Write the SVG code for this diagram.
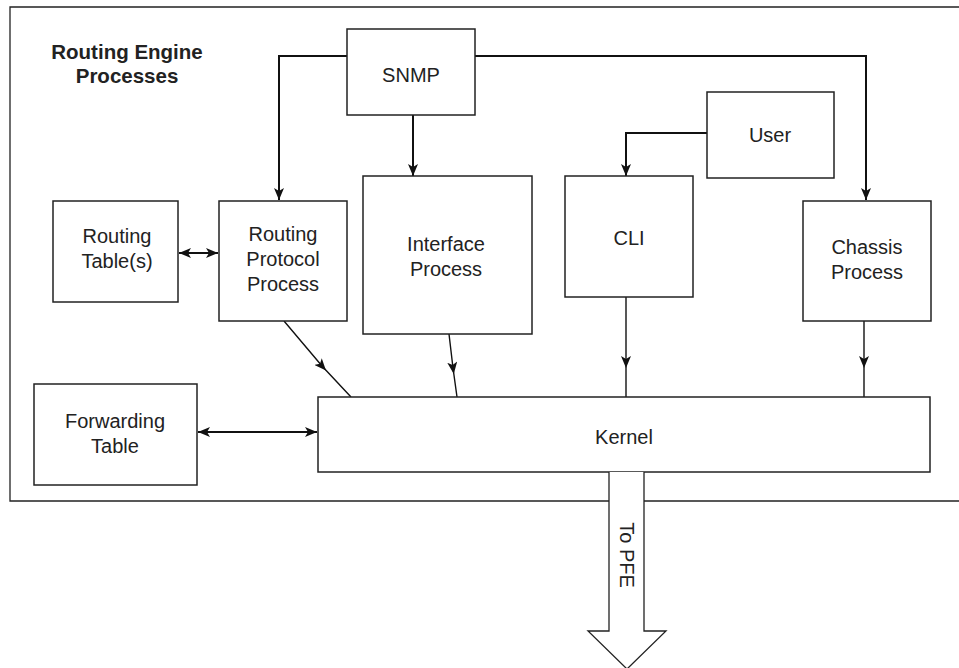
<svg xmlns="http://www.w3.org/2000/svg" width="959" height="668" viewBox="0 0 959 668">
<style>
.box{fill:#fff;stroke:#222;stroke-width:1.5}
.lbl{font-family:"Liberation Sans",Arial,sans-serif;font-size:20px;fill:#222;text-anchor:middle}
.title{font-family:"Liberation Sans",Arial,sans-serif;font-size:20.5px;font-weight:bold;fill:#222;text-anchor:middle}
.thick{fill:none;stroke:#111;stroke-width:2}
.thin{fill:none;stroke:#111;stroke-width:1.4}
</style>
<defs>
<marker id="ah" viewBox="0 0 12 10" refX="12" refY="5" markerWidth="12" markerHeight="10" markerUnits="userSpaceOnUse" orient="auto">
<path d="M0,0 L12,5 L0,10 L3,5 Z" fill="#111"/>
</marker>
<marker id="ahs" viewBox="0 0 12 10" refX="12" refY="5" markerWidth="12" markerHeight="10" markerUnits="userSpaceOnUse" orient="auto-start-reverse">
<path d="M0,0 L12,5 L0,10 L3,5 Z" fill="#111"/>
</marker>
<marker id="am" viewBox="0 0 12 10" refX="6" refY="5" markerWidth="12" markerHeight="10" markerUnits="userSpaceOnUse" orient="auto">
<path d="M0,0 L12,5 L0,10 L3,5 Z" fill="#111"/>
</marker>
</defs>
<g id="frame">
<path d="M609,501 L10,501 L10,7 L965,7 M644,501 L965,501" fill="none" stroke="#222" stroke-width="1.3"/>
<text class="title" x="127" y="59">Routing Engine</text>
<text class="title" x="127" y="83">Processes</text>
</g>
<g id="connectors">
<path class="thick" d="M347,56 L279,56 L279,200" marker-end="url(#ah)"/>
<path class="thick" d="M475,56 L866,56 L866,200" marker-end="url(#ah)"/>
<path class="thick" d="M413,115 L413,176" marker-end="url(#ah)"/>
<path class="thick" d="M707,133 L626,133 L626,176" marker-end="url(#ah)"/>
<path class="thick" d="M179,253 L218,253" marker-start="url(#ahs)" marker-end="url(#ah)"/>
<path class="thick" d="M198,432 L317,432" marker-start="url(#ahs)" marker-end="url(#ah)"/>
<path class="thin" d="M284,321 L322,366 L351,397" marker-mid="url(#am)"/>
<path class="thin" d="M449,334 L453,368 L457,397" marker-mid="url(#am)"/>
<path class="thin" d="M626,297 L626,362 L626,397" marker-mid="url(#am)"/>
<path class="thin" d="M864,321 L864,362 L864,397" marker-mid="url(#am)"/>
</g>
<g id="snmp"><rect class="box" x="347" y="29" width="128" height="86"/><text class="lbl" x="411" y="82">SNMP</text></g>
<g id="user"><rect class="box" x="707" y="92" width="127" height="86"/><text class="lbl" x="770" y="142">User</text></g>
<g id="routing-tables"><rect class="box" x="53" y="201" width="125" height="101"/><text class="lbl" x="117" y="243">Routing</text><text class="lbl" x="117" y="268">Table(s)</text></g>
<g id="rpp"><rect class="box" x="219" y="201" width="128" height="120"/><text class="lbl" x="283" y="241">Routing</text><text class="lbl" x="283" y="266">Protocol</text><text class="lbl" x="283" y="291">Process</text></g>
<g id="interface"><rect class="box" x="363" y="176" width="169" height="158"/><text class="lbl" x="446" y="251">Interface</text><text class="lbl" x="446" y="276">Process</text></g>
<g id="cli"><rect class="box" x="565" y="176" width="128" height="121"/><text class="lbl" x="629" y="245">CLI</text></g>
<g id="chassis"><rect class="box" x="803" y="201" width="128" height="120"/><text class="lbl" x="867" y="254">Chassis</text><text class="lbl" x="867" y="279">Process</text></g>
<g id="forwarding"><rect class="box" x="34" y="384" width="163" height="101"/><text class="lbl" x="115" y="428">Forwarding</text><text class="lbl" x="115" y="453">Table</text></g>
<g id="kernel"><rect class="box" x="318" y="397" width="612" height="75"/><text class="lbl" x="624" y="444">Kernel</text></g>
<g id="to-pfe">
<path d="M609,472 L609,631 L588,631 L627,669 L666,631 L644,631 L644,472" fill="#fff" stroke="#222" stroke-width="1.3"/>
<text class="lbl" transform="translate(620,555) rotate(90)" x="0" y="0">To PFE</text>
</g>
</svg>
